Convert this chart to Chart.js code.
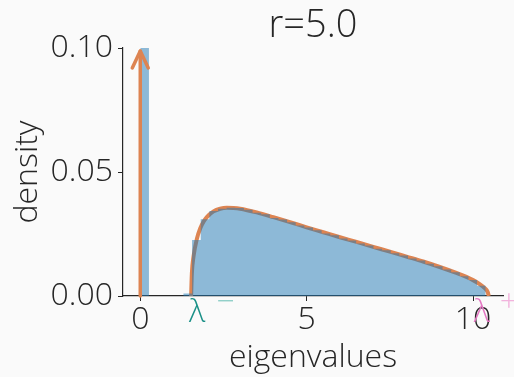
<!DOCTYPE html>
<html>
<head>
<meta charset="utf-8">
<script src="https://cdn.jsdelivr.net/npm/chart.js@4.4.1/dist/chart.umd.min.js"></script>
<style>
  html, body { margin: 0; padding: 0; background: #fafafa; }
  #wrap { width: 514px; height: 377px; }
</style>
</head>
<body>
<div id="wrap"><canvas id="c" width="514" height="377"></canvas></div>
<script>
// Histogram of sample eigenvalues: left bin edges, bin width and densities
const binLeft = [0.000, 0.260, 0.519, 0.779, 1.038, 1.298, 1.557, 1.817, 2.076, 2.336,
                 2.595, 2.855, 3.114, 3.374, 3.633, 3.893, 4.152, 4.412, 4.671, 4.931,
                 5.190, 5.450, 5.709, 5.969, 6.228, 6.488, 6.747, 7.007, 7.266, 7.526,
                 7.785, 8.045, 8.304, 8.564, 8.823, 9.083, 9.342, 9.602, 9.861, 10.121];
const binRightEdge = 10.380;
const binDensity = [3.08, 0, 0, 0, 0, 0.001, 0.0226, 0.0309, 0.0343, 0.0352,
                    0.0356, 0.0355, 0.0348, 0.0336, 0.0330, 0.0315, 0.0308, 0.0297, 0.0284, 0.0276,
                    0.0265, 0.0252, 0.0245, 0.0232, 0.0224, 0.0212, 0.0204, 0.0191, 0.0184, 0.0172,
                    0.0163, 0.0151, 0.0143, 0.0130, 0.0120, 0.0107, 0.0096, 0.0080, 0.0065, 0.0041];

// Marchenko-Pastur density, continuous part
const mpX = [1.528, 1.55, 1.6, 1.7, 1.8, 1.9, 2.0, 2.2, 2.4, 2.6, 2.8, 3.0, 3.5, 4.0, 4.5, 5.0,
             5.5, 6.0, 6.5, 7.0, 7.5, 8.0, 8.5, 9.0, 9.5, 9.8, 10.0, 10.2, 10.35, 10.44, 10.472];
const mpY = [0, 0.0091, 0.0159, 0.0230, 0.0272, 0.0299, 0.0318, 0.0341, 0.0352, 0.0356, 0.0355,
             0.0352, 0.0337, 0.0318, 0.0298, 0.0277, 0.0257, 0.0237, 0.0218, 0.0198, 0.0179,
             0.0159, 0.0139, 0.0117, 0.0093, 0.0077, 0.0064, 0.0048, 0.0032, 0.0016, 0];

// Point mass at zero and support edges
const pointMassX = 0;
const lambdaMinus = 1.528;
const lambdaPlus = 10.472;

const xTicks = [0, 5, 10];
const yTicks = [0, 0.05, 0.10];
const titleText = 'r=5.0';

const FONT = "'Open Sans', 'DejaVu Sans', sans-serif";
const INK = '#262626';
const ORANGE = '#dd8452';
const LABEL_SIZE = 32;

// histogram outline as a stepped, filled series (one polygon, no seams between bins)
const histPoints = binLeft.map((x, i) => ({ x, y: binDensity[i] }));
histPoints.push({ x: binRightEdge, y: 0 });

const overlay = {
  id: 'overlay',
  afterDatasetsDraw(chart) {
    // arrow marking the point mass at zero
    const ctx = chart.ctx, xs = chart.scales.x, ys = chart.scales.y;
    const px = xs.getPixelForValue(pointMassX);
    const y0 = ys.getPixelForValue(0);
    const yt = ys.getPixelForValue(ys.max);
    ctx.save();
    ctx.strokeStyle = ORANGE;
    ctx.lineWidth = 3.5;
    ctx.lineCap = 'round';
    ctx.lineJoin = 'round';
    ctx.beginPath();
    ctx.moveTo(px, y0);
    ctx.lineTo(px, yt + 3);
    ctx.stroke();
    ctx.beginPath();
    ctx.moveTo(px - 8, yt + 20);
    ctx.lineTo(px, yt + 3);
    ctx.lineTo(px + 8, yt + 20);
    ctx.stroke();
    ctx.restore();
  },
  afterDraw(chart) {
    const ctx = chart.ctx, xs = chart.scales.x, ys = chart.scales.y;
    const y0 = ys.getPixelForValue(0);
    ctx.save();
    ctx.textBaseline = 'alphabetic';
    ctx.font = '300 ' + LABEL_SIZE + 'px ' + FONT;
    // lambda minus
    const lm = xs.getPixelForValue(lambdaMinus);
    ctx.fillStyle = '#1a9087';
    ctx.textAlign = 'left';
    ctx.fillText('λ', lm - 2, y0 + 26);
    const wl = ctx.measureText('λ').width;
    ctx.fillStyle = '#8fcfc8';
    ctx.fillText('−', lm - 2 + wl + 11, y0 + 16);
    // lambda plus
    const lp = xs.getPixelForValue(lambdaPlus);
    ctx.fillStyle = '#e377c2';
    ctx.textAlign = 'right';
    ctx.fillText('λ', lp + 1, y0 + 26);
    ctx.fillStyle = '#f2b3dd';
    ctx.textAlign = 'left';
    ctx.fillText('+', lp + 11, y0 + 16);
    // title
    ctx.fillStyle = INK;
    ctx.textAlign = 'center';
    ctx.font = '300 38px ' + FONT;
    ctx.fillText(titleText, (chart.chartArea.left + chart.chartArea.right) / 2, 37);
    ctx.restore();
  }
};

new Chart(document.getElementById('c'), {
  type: 'line',
  data: {
    datasets: [
      {
        label: 'histogram',
        data: histPoints,
        stepped: 'before',
        borderWidth: 0,
        borderColor: 'rgba(0,0,0,0)',
        backgroundColor: 'rgba(31,119,180,0.5)',
        fill: 'origin',
        pointRadius: 0,
        order: 0
      },
      {
        label: 'Marchenko-Pastur',
        data: mpX.map((x, i) => ({ x, y: mpY[i] })),
        borderColor: ORANGE,
        borderWidth: 4,
        pointRadius: 0,
        cubicInterpolationMode: 'monotone',
        fill: false,
        order: 1
      }
    ]
  },
  options: {
    responsive: false,
    animation: false,
    devicePixelRatio: 1,
    layout: { padding: { top: 48, right: 11, left: 0, bottom: 0 } },
    plugins: { legend: { display: false }, tooltip: { enabled: false } },
    scales: {
      x: {
        type: 'linear',
        min: -0.519,
        max: 10.9,
        offset: false,
        afterBuildTicks(s) { s.ticks = xTicks.map(v => ({ value: v })); },
        afterFit(s) { s.height = 81; },
        grid: { drawOnChartArea: false, drawTicks: true, tickLength: 5, color: INK, lineWidth: 1, offset: false },
        border: { display: true, color: INK, width: 1.2 },
        ticks: { color: INK, font: { family: FONT, size: LABEL_SIZE, weight: 300 }, padding: 0, maxRotation: 0,
                 callback: v => String(v) },
        title: { display: true, text: 'eigenvalues', color: INK,
                 font: { family: FONT, size: LABEL_SIZE, weight: 300 }, padding: { top: 0, bottom: 0 } }
      },
      y: {
        type: 'linear',
        min: 0,
        max: 0.10,
        afterBuildTicks(s) { s.ticks = yTicks.map(v => ({ value: v })); },
        afterFit(s) { s.width = 123; },
        grid: { drawOnChartArea: false, drawTicks: true, tickLength: 5, color: INK, lineWidth: 1 },
        border: { display: true, color: INK, width: 1.2 },
        ticks: { color: INK, font: { family: FONT, size: LABEL_SIZE, weight: 300 }, padding: 5,
                 callback: v => v.toFixed(2) },
        title: { display: true, text: 'density', color: INK,
                 font: { family: FONT, size: LABEL_SIZE, weight: 300 }, padding: { top: 9, bottom: 0 } }
      }
    }
  },
  plugins: [overlay]
});
</script>
</body>
</html>
